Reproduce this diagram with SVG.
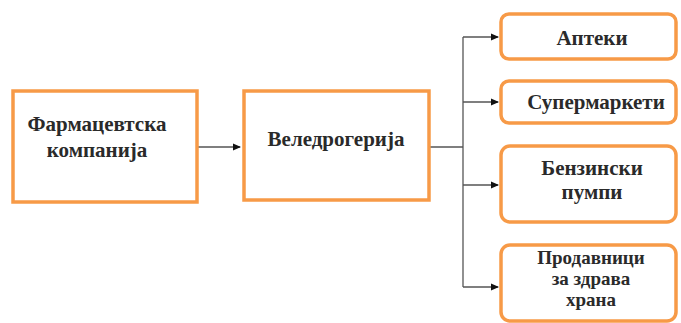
<svg xmlns="http://www.w3.org/2000/svg" width="681" height="323" viewBox="0 0 681 323">
<defs>
<marker id="ah" markerWidth="8" markerHeight="8" refX="7" refY="4" orient="auto" markerUnits="userSpaceOnUse">
<path d="M0,0.5 L8,4 L0,7.5 Z" fill="#111"/>
</marker>
<style>
.box{fill:#fff;stroke:#F79A47;stroke-width:3.5}
.c{fill:none;stroke:#555;stroke-width:1.3}
.t{font-family:'Liberation Serif','DejaVu Serif',serif;font-weight:bold;fill:#2a2a2a;text-anchor:middle}
</style>
</defs>
<rect width="681" height="323" fill="#fff"/>
<g id="connectors">
<line class="c" x1="197" y1="147" x2="240" y2="147" marker-end="url(#ah)"/>
<line class="c" x1="429" y1="147" x2="463" y2="147"/>
<line class="c" x1="463" y1="37" x2="463" y2="287"/>
<line class="c" x1="463" y1="37" x2="498" y2="37" marker-end="url(#ah)"/>
<line class="c" x1="463" y1="102" x2="498" y2="102" marker-end="url(#ah)"/>
<line class="c" x1="463" y1="185" x2="498" y2="185" marker-end="url(#ah)"/>
<line class="c" x1="463" y1="287" x2="498" y2="287" marker-end="url(#ah)"/>
</g>
<g font-size="21">
<g id="farm">
<rect class="box" x="13" y="91" width="184" height="111"/>
<text class="t" x="97" y="131">Фармацевтска</text>
<text class="t" x="97" y="157">компанија</text>
</g>
<g id="veledrogerija">
<rect class="box" x="244" y="91" width="185" height="109"/>
<text class="t" x="336" y="146">Веледрогерија</text>
</g>
<g id="apteki">
<rect class="box" x="501" y="14" width="175" height="45" rx="8"/>
<text class="t" x="592" y="45">Аптеки</text>
</g>
<g id="supermarketi">
<rect class="box" x="501" y="81" width="175" height="42" rx="8"/>
<text class="t" x="596" y="109">Супермаркети</text>
</g>
<g id="benzinski">
<rect class="box" x="501" y="146" width="175" height="76" rx="9"/>
<text class="t" x="592" y="175">Бензински</text>
<text class="t" x="592" y="199">пумпи</text>
</g>
<g id="prodavnici" font-size="19">
<rect class="box" x="501" y="245" width="175" height="76" rx="9"/>
<text class="t" x="591" y="264">Продавници</text>
<text class="t" x="591" y="285">за здрава</text>
<text class="t" x="591" y="306">храна</text>
</g>
</g>
</svg>
